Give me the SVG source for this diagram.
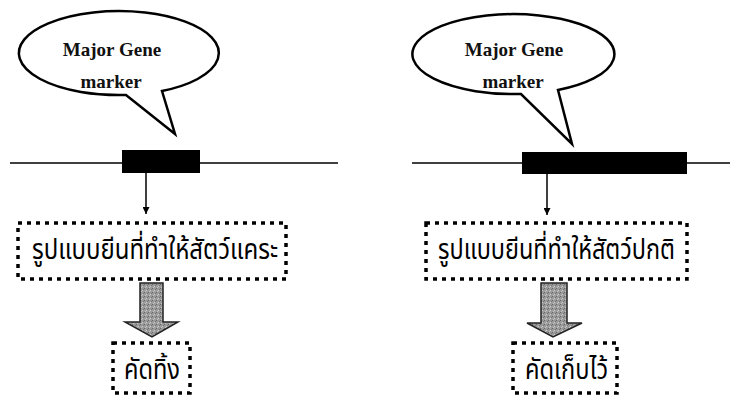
<svg xmlns="http://www.w3.org/2000/svg" width="730" height="398" viewBox="0 0 730 398">
  <defs>
    <style>
      .bubble { fill: #fff; stroke: #000; stroke-width: 2.5; stroke-linejoin: miter; }
      .label { font-family: "Liberation Serif", "Times New Roman", serif; font-weight: bold; font-size: 19px; fill: #111; text-anchor: middle; }
      .gene { stroke: #000; stroke-width: 1.6; fill: none; }
      .block { fill: #000; }
      .link { stroke: #000; stroke-width: 1.5; fill: none; }
      .dotted { fill: #fff; stroke: #000; stroke-width: 3.5; stroke-dasharray: 4 5; }
      .thai { font-family: "Noto Sans Thai", "Noto Serif Thai", "Noto Sans", "DejaVu Sans", sans-serif; font-size: 28px; fill: #000; }
      .big { fill: url(#grain); stroke: #222; stroke-width: 1.5; stroke-linejoin: miter; }
    </style>
    <marker id="tip" viewBox="0 0 10 10" refX="10" refY="5" markerWidth="7" markerHeight="7" markerUnits="userSpaceOnUse" orient="auto">
      <path d="M0,0 L10,5 L0,10 z" fill="#000"/>
    </marker>
    <pattern id="grain" width="4" height="4" patternUnits="userSpaceOnUse">
      <rect width="4" height="4" fill="#9a9a9a"/>
      <rect x="0" y="0" width="1" height="1" fill="#666"/>
      <rect x="2" y="2" width="1" height="1" fill="#d0d0d0"/>
      <rect x="3" y="1" width="1" height="1" fill="#777"/>
      <rect x="1" y="3" width="1" height="1" fill="#c4c4c4"/>
    </pattern>
  </defs>

  <!-- left column: dwarf genotype -->
  <g id="callout-left">
    <path class="bubble" d="M126,95 A100,42 0 1 1 162,91 L175,134 Z"/>
    <text class="label" x="112" y="56">Major Gene</text>
    <text class="label" x="111" y="88">marker</text>
  </g>
  <g id="gene-left">
    <line class="gene" x1="10" y1="163" x2="338" y2="163"/>
    <rect class="block" x="122" y="150" width="78" height="23"/>
  </g>
  <g id="box-dwarf">
    <rect class="dotted" x="18" y="223" width="268" height="56"/>
    <text class="thai" x="32" y="259" textLength="246" lengthAdjust="spacingAndGlyphs">รูปแบบยีนที่ทำให้สัตว์แคระ</text>
  </g>
  <g id="box-cull">
    <rect class="dotted" x="113" y="343" width="77" height="50"/>
    <text class="thai" x="124" y="379" textLength="56" lengthAdjust="spacingAndGlyphs">คัดทิ้ง</text>
  </g>

  <!-- right column: normal genotype -->
  <g id="callout-right">
    <path class="bubble" d="M521,94 A101,40 0 1 1 558,90 L572,144 Z"/>
    <text class="label" x="514" y="56">Major Gene</text>
    <text class="label" x="513" y="88">marker</text>
  </g>
  <g id="gene-right">
    <line class="gene" x1="412" y1="163" x2="730" y2="163"/>
    <rect class="block" x="522" y="152" width="165" height="22"/>
  </g>
  <g id="box-normal">
    <rect class="dotted" x="426" y="223" width="261" height="56"/>
    <text class="thai" x="438" y="259" textLength="237" lengthAdjust="spacingAndGlyphs">รูปแบบยีนที่ทำให้สัตว์ปกติ</text>
  </g>
  <g id="box-keep">
    <rect class="dotted" x="513" y="343" width="104" height="50"/>
    <text class="thai" x="525" y="379" textLength="83" lengthAdjust="spacingAndGlyphs">คัดเก็บไว้</text>
  </g>

  <!-- connectors -->
  <g id="connectors">
    <line class="link" x1="146" y1="173" x2="146" y2="214" marker-end="url(#tip)"/>
    <line class="link" x1="547" y1="174" x2="547" y2="215" marker-end="url(#tip)"/>
    <path class="big" d="M140,283 H163 V322 H178 L152,337 L125,322 H140 Z"/>
    <path class="big" d="M541,283 H567 V323 H582 L553,337 L527,323 H541 Z"/>
  </g>
</svg>
